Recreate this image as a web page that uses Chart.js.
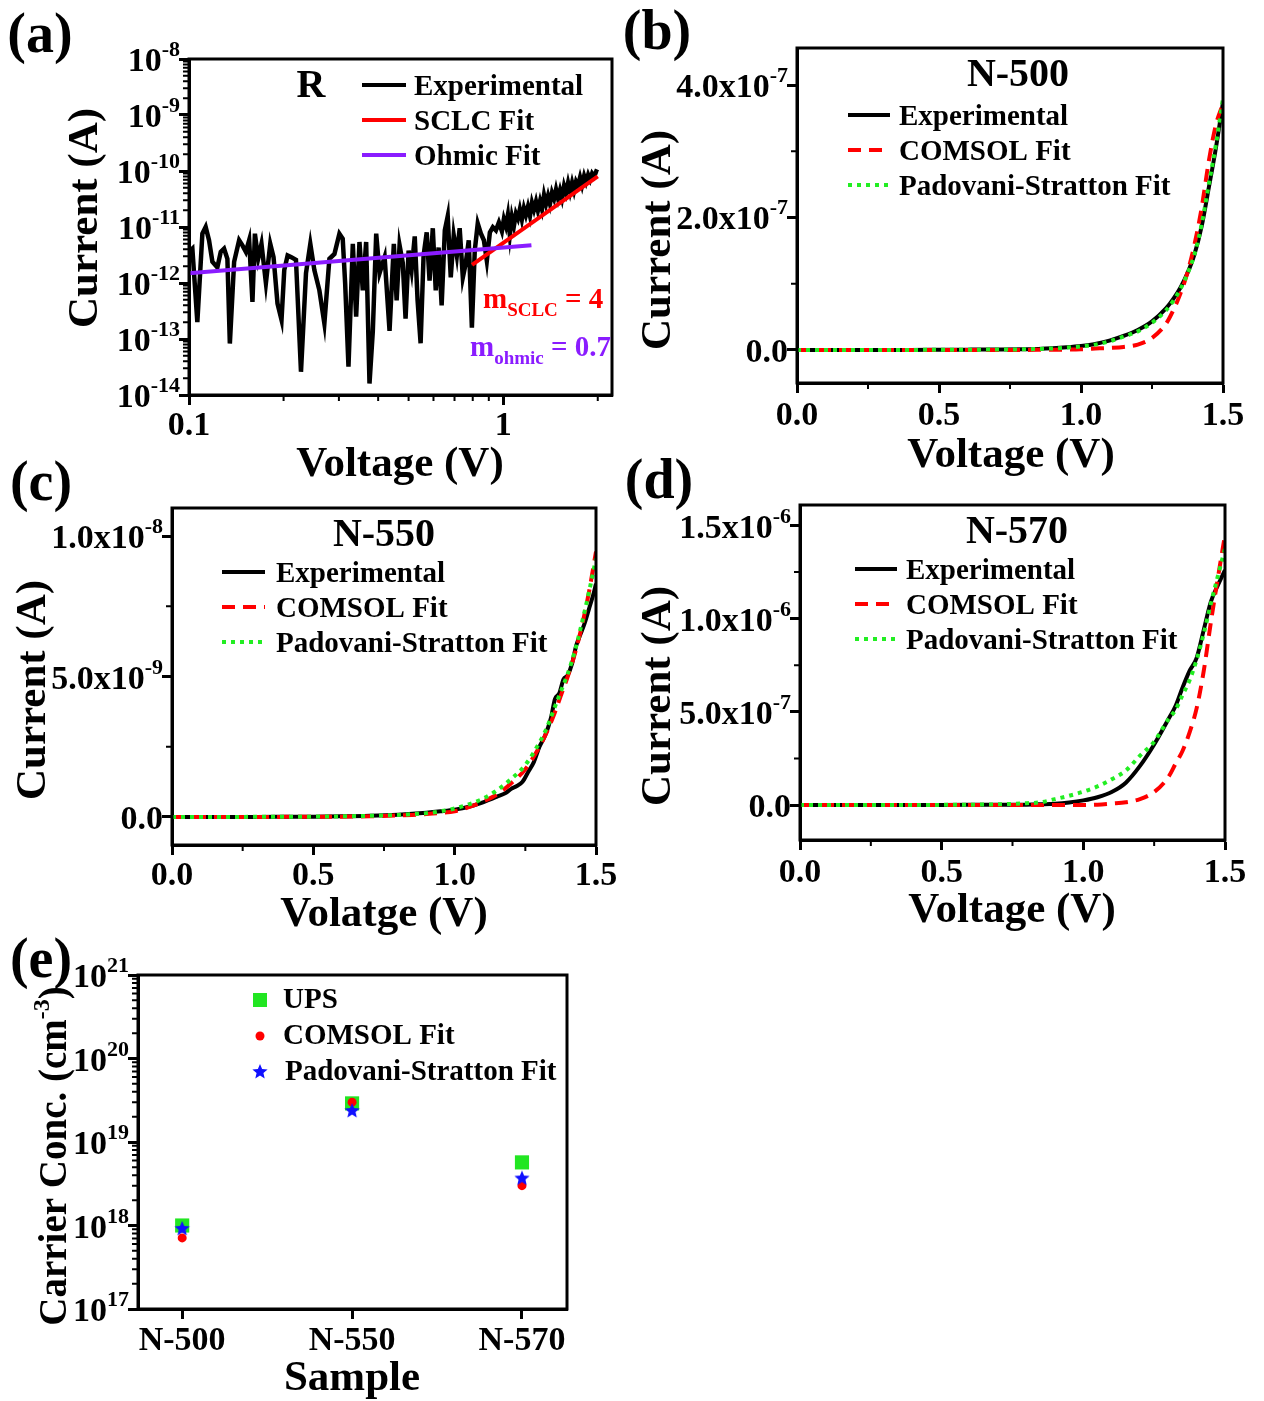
<!DOCTYPE html>
<html>
<head>
<meta charset="utf-8">
<title>I-V and carrier concentration</title>
<script src="https://cdn.jsdelivr.net/npm/chart.js@4.4.1/dist/chart.umd.min.js"></script>
<style>
  html, body { margin: 0; padding: 0; background: #fff; }
  #wrap { position: relative; width: 1264px; height: 1401px; }
  #wrap canvas { position: absolute; left: 0; top: 0; }
</style>
</head>
<body>
<div id="wrap">
  <canvas id="ca" width="1264" height="1401"></canvas>
  <canvas id="cb" width="1264" height="1401"></canvas>
  <canvas id="cc" width="1264" height="1401"></canvas>
  <canvas id="cd" width="1264" height="1401"></canvas>
  <canvas id="ce" width="1264" height="1401"></canvas>
</div>
<script>
const W = 1264, H = 1401;
const SERIF = '"Liberation Serif", "Times New Roman", serif';
const TICK = 34, SUP = 22, LEG = 29, TITLE = 43, HEAD = 40, TAG = 56;
const RED = '#ff0000', GREEN = '#22ee22', VIOLET = '#8a1cff', BLUE = '#1010ff';

// ---- (a) R film, log-log I-V ----
const aV = [
  0.100, 0.1025, 0.1063, 0.1103, 0.1130, 0.1158, 0.1187, 0.1231, 0.1262, 0.1293,
  0.1325, 0.1349, 0.1392, 0.1444, 0.1479, 0.1517, 0.1554, 0.1592, 0.1621, 0.1660,
  0.1701, 0.1757, 0.1814, 0.1858, 0.1913, 0.1970, 0.2010, 0.2060, 0.2111, 0.2190,
  0.2272, 0.2357, 0.2433, 0.2506, 0.2600, 0.2697, 0.2798, 0.2903, 0.3011, 0.3085,
  0.3141, 0.3218, 0.3322, 0.3404, 0.3488, 0.3574, 0.3663, 0.3754, 0.3847, 0.3943,
  0.4041, 0.4194, 0.4348, 0.4487,
  0.458, 0.468, 0.479, 0.489, 0.500, 0.511, 0.523, 0.534, 0.546, 0.558,
  0.571, 0.583, 0.597, 0.610, 0.623, 0.637, 0.652, 0.666, 0.681, 0.696,
  0.712, 0.727, 0.744, 0.760, 0.777, 0.795, 0.812, 0.830, 0.849, 0.868,
  0.887, 0.907, 0.927, 0.948, 0.969,
  0.9905, 1.005, 1.020, 1.035, 1.050, 1.066, 1.082, 1.098, 1.114, 1.130,
  1.147, 1.164, 1.181, 1.199, 1.217, 1.235, 1.253, 1.272, 1.290, 1.310,
  1.329, 1.349, 1.369, 1.389, 1.409, 1.430, 1.452, 1.473, 1.495, 1.517,
  1.539, 1.562, 1.585, 1.609, 1.633, 1.657, 1.681, 1.706, 1.731, 1.757,
  1.783, 1.810, 1.836, 1.864, 1.891, 1.919, 1.948, 1.977, 2.005
];
const aI = [
  3.6e-12, 4.1e-12, 2.0e-13, 7.6e-12, 1.0e-11, 5.8e-12, 2.4e-12, 1.9e-12, 3.6e-12, 4.1e-12,
  2.7e-12, 8.3e-14, 2.4e-12, 5.8e-12, 4.7e-12, 3.6e-12, 5.8e-12, 4.6e-13, 7.6e-12, 2.7e-12,
  5.0e-12, 1.0e-12, 5.0e-12, 2.9e-12, 4.3e-13, 2.2e-13, 1.7e-12, 3.1e-12, 2.9e-12, 2.6e-12,
  2.6e-14, 1.5e-12, 5.0e-12, 1.7e-12, 7.4e-13, 1.9e-13, 2.7e-12, 3.3e-12, 7.6e-12, 6.2e-12,
  9.7e-13, 3.2e-14, 5.0e-12, 2.5e-13, 5.4e-12, 7.4e-13, 5.4e-12, 1.6e-14, 1.4e-13, 7.6e-12,
  1.5e-12, 2.9e-12, 1.4e-13, 5.0e-12,
  4.9e-13, 4.7e-12, 2.3e-12, 2.3e-13, 3.8e-12, 1.7e-12, 6.8e-12, 4.9e-13, 8.4e-14, 3.1e-12,
  8.0e-12, 1.1e-12, 9.5e-12, 7.4e-13, 4.3e-12, 4.0e-13, 8.7e-12, 1.55e-11, 1.26e-12, 7.1e-12,
  3.1e-12, 9.5e-12, 1.26e-12, 2.25e-12, 5.8e-12, 1.6e-13, 3.8e-12, 1.16e-11, 7.7e-12, 5.8e-12,
  2.5e-12, 8.0e-12, 9.9e-12, 8.7e-12, 1.21e-11,
  8.4e-12, 1.38e-11, 1.04e-11, 1.64e-11, 7.2e-12, 1.52e-11, 1.05e-11, 1.73e-11, 1.42e-11, 2.06e-11,
  1.37e-11, 2.17e-11, 1.63e-11, 2.29e-11, 1.58e-11, 2.72e-11, 2.05e-11, 2.85e-11, 1.98e-11, 2.88e-11,
  2.08e-11, 3.72e-11, 2.58e-11, 3.59e-11, 2.59e-11, 4.10e-11, 3.21e-11, 4.68e-11, 3.24e-11, 4.52e-11,
  3.27e-11, 5.37e-11, 4.05e-11, 6.13e-11, 4.26e-11, 6.18e-11, 4.47e-11, 6.49e-11, 5.53e-11, 7.72e-11,
  5.60e-11, 8.15e-11, 6.38e-11, 8.55e-11, 7.0e-11, 9.0e-11, 7.98e-11, 9.84e-11, 9.5e-11
];
const aOhmV = [0.1, 1.23];
const aOhmI = [1.5e-12, 4.7e-12];
const aSclcV = [0.796, 2.0];
const aSclcI = [2.1e-12, 8.0e-11];
const aXTicks = [0.1, 1];
const aXLabels = ['0.1', '1'];
const aXMinor = [0.2, 0.3, 0.4, 0.5, 0.6, 0.7, 0.8, 0.9, 2];
const aYTicks = [1e-14, 1e-13, 1e-12, 1e-11, 1e-10, 1e-9, 1e-8];
const aYExp = ['-14', '-13', '-12', '-11', '-10', '-9', '-8'];

// ---- (b)-(d) linear I-V, shared voltage grid ----
const vGrid = [0, 0.1, 0.2, 0.3, 0.4, 0.5, 0.6, 0.7, 0.8, 0.85, 0.9, 0.95, 1.0, 1.05, 1.1,
  1.15, 1.2, 1.25, 1.3, 1.325, 1.35, 1.375, 1.4, 1.425, 1.45, 1.475, 1.5];
const vXTicks = [0, 0.5, 1.0, 1.5];
const vXLabels = ['0.0', '0.5', '1.0', '1.5'];
const vXMinor = [0.25, 0.75, 1.25];

// N-500
const bExp = [0, 0, 0, 0, 0, 2e-10, 4e-10, 6e-10, 1e-9, 1.5e-9, 2.5e-9, 4e-9, 6e-9, 9e-9, 1.4e-8,
  2.1e-8, 3.0e-8, 4.3e-8, 6.3e-8, 7.7e-8, 9.4e-8, 1.16e-7, 1.45e-7, 1.87e-7, 2.45e-7, 3.05e-7, 3.74e-7];
const bComsol = [0, 0, 0, 0, 0, 0, 0, 0, 0, 2e-10, 3e-10, 5e-10, 1e-9, 2e-9, 3e-9,
  4.5e-9, 8e-9, 1.8e-8, 4.0e-8, 6.0e-8, 8.5e-8, 1.17e-7, 1.6e-7, 2.15e-7, 2.85e-7, 3.4e-7, 3.72e-7];
const bPS = [0, 0, 0, 0, 0, 2e-10, 3e-10, 5e-10, 9e-10, 1.4e-9, 2.2e-9, 3.5e-9, 5.2e-9, 8e-9, 1.3e-8,
  2.0e-8, 2.8e-8, 4.1e-8, 6.0e-8, 7.4e-8, 9.2e-8, 1.15e-7, 1.45e-7, 1.9e-7, 2.5e-7, 3.1e-7, 3.8e-7];
const bYTicks = [0, 2e-7, 4e-7];
const bYLabels = [['0.0'], ['2.0x10', '-7'], ['4.0x10', '-7']];
const bYMinor = [1e-7, 3e-7];

// N-550
const cExpV = [0, 0.1, 0.2, 0.3, 0.4, 0.5, 0.6, 0.7, 0.8, 0.9, 0.95, 1.0, 1.05, 1.1, 1.15, 1.18, 1.2,
  1.22, 1.24, 1.26, 1.28, 1.3, 1.32, 1.34, 1.355, 1.37, 1.385, 1.4, 1.415, 1.43, 1.445, 1.46, 1.475, 1.49, 1.5];
const cExp = [0, 0, 0, 0, 5e-12, 1e-11, 2e-11, 4e-11, 8e-11, 1.5e-10, 2.0e-10, 2.6e-10, 3.6e-10, 5.2e-10,
  7.2e-10, 8.5e-10, 1.0e-9, 1.1e-9, 1.25e-9, 1.6e-9, 1.95e-9, 2.5e-9, 2.9e-9, 3.5e-9, 4.2e-9, 4.4e-9,
  4.9e-9, 5.05e-9, 5.45e-9, 6.1e-9, 6.5e-9, 6.9e-9, 7.4e-9, 7.9e-9, 8.3e-9];
const cComsol = [0, 0, 0, 0, 2e-12, 5e-12, 1e-11, 2.5e-11, 5e-11, 7e-11, 1.0e-10, 1.4e-10, 2.0e-10, 3.5e-10,
  5.5e-10, 8.0e-10, 1.2e-9, 1.7e-9, 2.5e-9, 3.0e-9, 3.6e-9, 4.3e-9, 5.0e-9, 5.8e-9, 6.8e-9, 8.0e-9, 9.45e-9];
const cPS = [0, 0, 1e-12, 2e-12, 5e-12, 1e-11, 2e-11, 4e-11, 7e-11, 1.0e-10, 1.3e-10, 2.0e-10, 3.0e-10, 4.5e-10,
  6.5e-10, 9.5e-10, 1.35e-9, 1.85e-9, 2.65e-9, 3.15e-9, 3.8e-9, 4.45e-9, 5.1e-9, 5.9e-9, 6.9e-9, 8.0e-9, 9.2e-9];
const cYTicks = [0, 5e-9, 1e-8];
const cYLabels = [['0.0'], ['5.0x10', '-9'], ['1.0x10', '-8']];
const cYMinor = [2.5e-9, 7.5e-9];

// N-570
const dExp = [0, 0, 0, 0, 0, 5e-10, 1e-9, 1.5e-9, 2e-9, 4e-9, 7e-9, 1.4e-8, 2.5e-8, 4.2e-8, 7.0e-8,
  1.2e-7, 2.1e-7, 3.25e-7, 4.6e-7, 5.3e-7, 6.3e-7, 7.2e-7, 7.9e-7, 9.4e-7, 1.09e-6, 1.18e-6, 1.26e-6];
const dComsol = [0, 0, 0, 0, 0, 0, 0, 0, 0, 0, 0, 0, 0, 2e-9, 8e-9,
  1.5e-8, 3.2e-8, 7.0e-8, 1.5e-7, 2.2e-7, 2.9e-7, 3.9e-7, 5.2e-7, 7.2e-7, 9.8e-7, 1.22e-6, 1.45e-6];
const dPS = [0, 0, 0, 2e-10, 5e-10, 1e-9, 2e-9, 4e-9, 1.0e-8, 1.5e-8, 3.2e-8, 5.0e-8, 7.2e-8, 1.0e-7, 1.38e-7,
  1.85e-7, 2.65e-7, 3.4e-7, 4.6e-7, 5.1e-7, 5.9e-7, 6.7e-7, 7.8e-7, 9.2e-7, 1.08e-6, 1.23e-6, 1.375e-6];
const dYTicks = [0, 5e-7, 1e-6, 1.5e-6];
const dYLabels = [['0.0'], ['5.0x10', '-7'], ['1.0x10', '-6'], ['1.5x10', '-6']];
const dYMinor = [2.5e-7, 7.5e-7, 1.25e-6];

// ---- (e) carrier concentration ----
const samples = ['N-500', 'N-550', 'N-570'];
const eUPS = [1.0e18, 2.9e19, 5.7e18];
const eComsol = [7.1e17, 3.0e19, 3.0e18];
const ePS = [9.1e17, 2.35e19, 3.65e18];
const eYTicks = [1e17, 1e18, 1e19, 1e20, 1e21];
const eYExp = ['17', '18', '19', '20', '21'];

function logMinors(from, to) {
  const out = [];
  for (let e = from; e < to; e++) for (let k = 2; k < 10; k++) out.push(k * Math.pow(10, e));
  return out;
}

// text with optional super/subscript parts: [[text, size, dy], ...]
function write(ctx, parts, x, y, o = {}) {
  if (typeof parts === 'string') parts = [[parts, o.size || TICK]];
  ctx.save();
  ctx.fillStyle = o.color || '#000';
  ctx.textAlign = 'left';
  ctx.textBaseline = 'alphabetic';
  ctx.translate(x, y);
  if (o.rot) ctx.rotate(-Math.PI / 2);
  let w = 0;
  for (const p of parts) { ctx.font = `bold ${p[1]}px ${SERIF}`; w += ctx.measureText(p[0]).width; }
  let cx = o.align === 'right' ? -w : o.align === 'left' ? 0 : -w / 2;
  for (const p of parts) {
    ctx.font = `bold ${p[1]}px ${SERIF}`;
    ctx.fillText(p[0], cx, p[2] || 0);
    cx += ctx.measureText(p[0]).width;
  }
  ctx.restore();
}

function tickParts(lbl) {
  return lbl.length > 1 ? [[lbl[0], TICK], [lbl[1], SUP, -15]] : [[lbl[0], TICK]];
}

function lineLegend(ctx, chart, x1, x2, tx, y0, dy) {
  chart.data.datasets.forEach((ds, k) => {
    const y = y0 + k * dy;
    ctx.save();
    ctx.strokeStyle = ds.borderColor;
    ctx.lineWidth = 4;
    ctx.setLineDash(ds.borderDash || []);
    ctx.beginPath();
    ctx.moveTo(x1, y);
    ctx.lineTo(x2, y);
    ctx.stroke();
    ctx.restore();
    write(ctx, ds.label, tx, y + 10, { align: 'left', size: LEG });
  });
}

// box outline, minor ticks, tick labels and the panel's own texts
function frame(cfg) {
  return {
    id: 'frame',
    afterDraw(chart) {
      const ctx = chart.ctx, a = chart.chartArea;
      const sx = chart.scales.x, sy = chart.scales.y;
      ctx.save();
      ctx.strokeStyle = '#000';
      ctx.lineWidth = 3;
      ctx.strokeRect(a.left, a.top, a.right - a.left, a.bottom - a.top);
      ctx.lineWidth = 2;
      ctx.beginPath();
      (cfg.xMinor || []).forEach(v => {
        const px = sx.getPixelForValue(v);
        ctx.moveTo(px, a.bottom); ctx.lineTo(px, a.bottom + 6);
      });
      (cfg.yMinor || []).forEach(v => {
        const py = sy.getPixelForValue(v);
        ctx.moveTo(a.left, py); ctx.lineTo(a.left - 6, py);
      });
      ctx.stroke();
      ctx.restore();
      cfg.xTicks.forEach((v, i) => write(ctx, cfg.xLabels[i], sx.getPixelForValue(v), cfg.xLabelY));
      cfg.yTicks.forEach((v, i) => write(ctx, cfg.yLabels[i], a.left - 9, sy.getPixelForValue(v) + 12, { align: 'right' }));
      cfg.extra(ctx, chart);
    }
  };
}

function axis(pos, type, min, max, ticks) {
  return {
    type, min, max, position: pos,
    afterBuildTicks: s => { s.ticks = ticks.map(v => ({ value: v })); },
    afterFit: s => { if (pos === 'bottom') s.height = 0; else s.width = 0; },
    ticks: { display: false },
    grid: { drawOnChartArea: false, tickLength: 10, tickWidth: 3, tickColor: '#000' },
    border: { color: '#000', width: 3 }
  };
}

function pairs(xs, ys) {
  return xs.map((x, i) => ({ x, y: ys[i] }));
}

function makeChart(id, box, scales, datasets, decor) {
  return new Chart(document.getElementById(id), {
    type: 'line',
    data: { datasets },
    options: {
      responsive: false,
      animation: false,
      devicePixelRatio: 1,
      layout: { autoPadding: false, padding: { left: box[0], top: box[1], right: W - box[2], bottom: H - box[3] } },
      plugins: { legend: { display: false }, tooltip: { enabled: false } },
      elements: { point: { radius: 0 }, line: { borderWidth: 4 } },
      scales
    },
    plugins: [frame(decor)]
  });
}

function ivSets(xExp, exp, comsol, ps) {
  return [
    { label: 'Experimental', data: pairs(xExp, exp), borderColor: '#000', order: 3, cubicInterpolationMode: 'monotone' },
    { label: 'COMSOL Fit', data: pairs(vGrid, comsol), borderColor: RED, borderDash: [13, 8], order: 2, cubicInterpolationMode: 'monotone' },
    { label: 'Padovani-Stratton Fit', data: pairs(vGrid, ps), borderColor: GREEN, borderDash: [4, 5], order: 1, cubicInterpolationMode: 'monotone' }
  ];
}

// (a)
makeChart('ca', [189, 59, 612, 395], {
  x: axis('bottom', 'logarithmic', 0.1, 2.22, aXTicks),
  y: axis('left', 'logarithmic', 1e-14, 1e-8, aYTicks)
}, [
  { label: 'Experimental', data: pairs(aV, aI), borderColor: '#000', borderWidth: 4.5, order: 3 },
  { label: 'SCLC Fit', data: pairs(aSclcV, aSclcI), borderColor: RED, order: 2 },
  { label: 'Ohmic Fit', data: pairs(aOhmV, aOhmI), borderColor: VIOLET, order: 1 }
], {
  xTicks: aXTicks, xLabels: aXLabels.map(s => [[s, TICK]]), xLabelY: 435, xMinor: aXMinor,
  yTicks: aYTicks, yLabels: aYExp.map(e => tickParts(['10', e])), yMinor: logMinors(-14, -8),
  extra(ctx, chart) {
    write(ctx, '(a)', 40, 52, { size: TAG });
    write(ctx, 'Voltage (V)', 400, 476, { size: TITLE });
    write(ctx, 'Current (A)', 97, 218, { size: TITLE, rot: true });
    write(ctx, 'R', 311, 97, { size: HEAD });
    lineLegend(ctx, chart, 362, 406, 414, 85, 35);
    write(ctx, [['m', LEG], ['SCLC', 19, 8], [' = 4', LEG]], 483, 308, { align: 'left', color: RED });
    write(ctx, [['m', LEG], ['ohmic', 19, 8], [' = 0.7', LEG]], 470, 356, { align: 'left', color: VIOLET });
  }
});

// (b)
makeChart('cb', [797, 48, 1223, 383], {
  x: axis('bottom', 'linear', 0, 1.5, vXTicks),
  y: axis('left', 'linear', -5e-8, 4.56e-7, bYTicks)
}, ivSets(vGrid, bExp, bComsol, bPS), {
  xTicks: vXTicks, xLabels: vXLabels.map(s => [[s, TICK]]), xLabelY: 425, xMinor: vXMinor,
  yTicks: bYTicks, yLabels: bYLabels.map(tickParts), yMinor: bYMinor,
  extra(ctx, chart) {
    write(ctx, '(b)', 657, 49, { size: TAG });
    write(ctx, 'N-500', 1018, 86, { size: HEAD });
    lineLegend(ctx, chart, 848, 890, 899, 115, 35);
    write(ctx, 'Voltage (V)', 1011, 467, { size: TITLE });
    write(ctx, 'Current (A)', 670, 240, { size: TITLE, rot: true });
  }
});

// (c)
makeChart('cc', [172, 508, 596, 845], {
  x: axis('bottom', 'linear', 0, 1.5, vXTicks),
  y: axis('left', 'linear', -1e-9, 1.1e-8, cYTicks)
}, ivSets(cExpV, cExp, cComsol, cPS), {
  xTicks: vXTicks, xLabels: vXLabels.map(s => [[s, TICK]]), xLabelY: 885, xMinor: vXMinor,
  yTicks: cYTicks, yLabels: cYLabels.map(tickParts), yMinor: cYMinor,
  extra(ctx, chart) {
    write(ctx, '(c)', 41, 500, { size: TAG });
    write(ctx, 'N-550', 384, 546, { size: HEAD });
    lineLegend(ctx, chart, 222, 265, 276, 572, 35);
    write(ctx, 'Volatge (V)', 384, 926, { size: TITLE });
    write(ctx, 'Current (A)', 45, 690, { size: TITLE, rot: true });
  }
});

// (d)
makeChart('cd', [800, 505, 1225, 840], {
  x: axis('bottom', 'linear', 0, 1.5, vXTicks),
  y: axis('left', 'linear', -1.875e-7, 1.61e-6, dYTicks)
}, ivSets(vGrid, dExp, dComsol, dPS), {
  xTicks: vXTicks, xLabels: vXLabels.map(s => [[s, TICK]]), xLabelY: 882, xMinor: vXMinor,
  yTicks: dYTicks, yLabels: dYLabels.map(tickParts), yMinor: dYMinor,
  extra(ctx, chart) {
    write(ctx, '(d)', 659, 498, { size: TAG });
    write(ctx, 'N-570', 1017, 543, { size: HEAD });
    lineLegend(ctx, chart, 855, 897, 906, 569, 35);
    write(ctx, 'Voltage (V)', 1012, 922, { size: TITLE });
    write(ctx, 'Current (A)', 670, 696, { size: TITLE, rot: true });
  }
});

// (e)
function starIcon(r, color) {
  const c = document.createElement('canvas');
  c.width = c.height = 2 * r + 2;
  const g = c.getContext('2d');
  g.fillStyle = color;
  g.beginPath();
  for (let k = 0; k < 10; k++) {
    const rr = k % 2 ? r * 0.45 : r;
    const ang = -Math.PI / 2 + k * Math.PI / 5;
    g.lineTo(r + 1 + rr * Math.cos(ang), r + 1 + rr * Math.sin(ang));
  }
  g.closePath();
  g.fill();
  return c;
}
const star = starIcon(8, BLUE);
const eX = samples.map((s, i) => i + 1);

makeChart('ce', [138, 975, 567, 1309], {
  x: axis('bottom', 'linear', 0.74, 3.265, eX),
  y: axis('left', 'logarithmic', 1e17, 1e21, eYTicks)
}, [
  { label: 'UPS', data: pairs(eX, eUPS), showLine: false, pointStyle: 'rect', pointRadius: 10,
    backgroundColor: '#22e622', borderWidth: 0, order: 3 },
  { label: 'COMSOL Fit', data: pairs(eX, eComsol), showLine: false, pointStyle: 'circle', pointRadius: 4.5,
    backgroundColor: RED, borderWidth: 0, order: 2 },
  { label: 'Padovani-Stratton Fit', data: pairs(eX, ePS), showLine: false, pointStyle: star, pointRadius: 8,
    borderWidth: 0, order: 1 }
], {
  xTicks: eX, xLabels: samples.map(s => [[s, TICK]]), xLabelY: 1350,
  yTicks: eYTicks, yLabels: eYExp.map(e => tickParts(['10', e])), yMinor: logMinors(17, 21),
  extra(ctx, chart) {
    write(ctx, '(e)', 41, 977, { size: TAG });
    ctx.save();
    ctx.fillStyle = '#22e622';
    ctx.fillRect(253, 993, 14, 14);
    ctx.fillStyle = RED;
    ctx.beginPath();
    ctx.arc(260, 1036, 4.5, 0, Math.PI * 2);
    ctx.fill();
    ctx.drawImage(star, 260 - star.width / 2, 1072 - star.height / 2);
    ctx.restore();
    const ds = chart.data.datasets;
    write(ctx, ds[0].label, 283, 1008, { align: 'left', size: LEG });
    write(ctx, ds[1].label, 283, 1044, { align: 'left', size: LEG });
    write(ctx, ds[2].label, 285, 1080, { align: 'left', size: LEG });
    write(ctx, 'Sample', 352, 1390, { size: TITLE });
    write(ctx, [['Carrier Conc. (cm', 39], ['-3', 24, -17], [')', 39]], 66, 1156, { rot: true });
  }
});
</script>
</body>
</html>
